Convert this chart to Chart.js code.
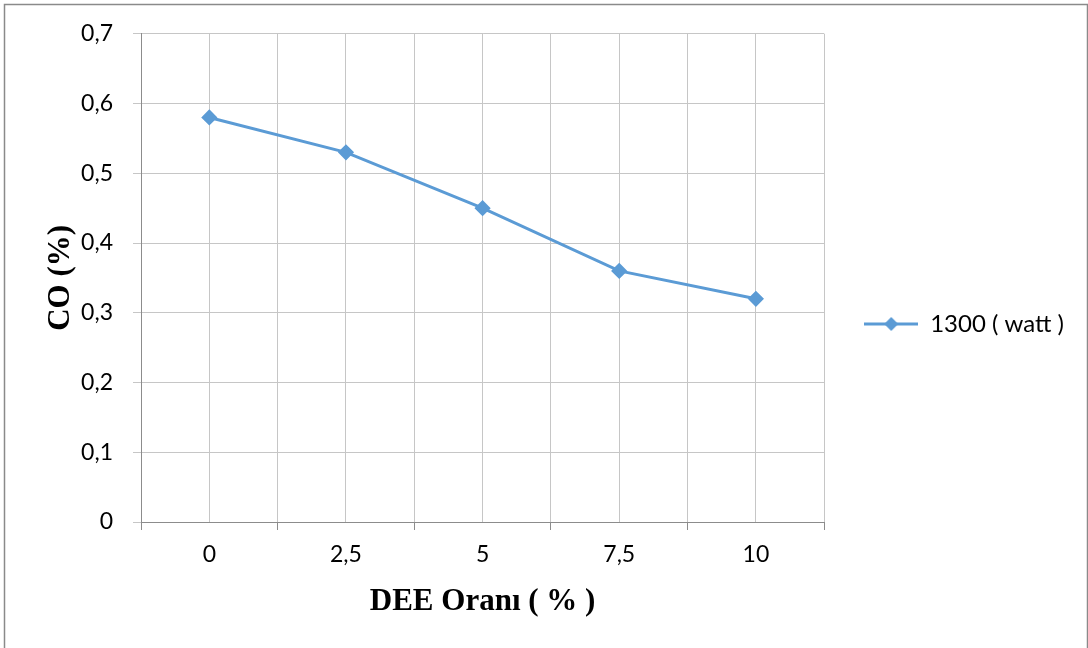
<!DOCTYPE html>
<html>
<head>
<meta charset="utf-8">
<script src="https://cdn.jsdelivr.net/npm/chart.js@4"></script>
<style>
  html, body { margin: 0; padding: 0; background: #ffffff; }
  #c { display: block; }
</style>
</head>
<body>
<canvas id="c" width="1088" height="648"></canvas>
<script>
// DEE ratio categories (%) and measured CO (%) at 1300 W
const categories = ['0', '2,5', '5', '7,5', '10'];
const coValues = [0.58, 0.53, 0.45, 0.36, 0.32];
const seriesName = '1300 ( watt )';
const yMin = 0;
const yMax = 0.7;
const yStep = 0.1;

const lineColor = '#5B9BD5';
const gridColor = '#C6C6C6';
const axisColor = '#8C8C8C';
const tickFont = { family: 'Lato, "Open Sans", sans-serif', size: 23 };
const legendFont = { family: 'Lato, "Open Sans", sans-serif', size: 24 };
const titleFont = { family: '"Liberation Serif", "Times New Roman", serif', size: 31, weight: 'bold' };

// Legend marker: a short line with a diamond in the middle
function legendMarker() {
  const w = 54, h = 14;
  const cv = document.createElement('canvas');
  cv.width = w; cv.height = h;
  const g = cv.getContext('2d');
  g.strokeStyle = lineColor;
  g.lineWidth = 3;
  g.beginPath(); g.moveTo(0, h / 2); g.lineTo(w, h / 2); g.stroke();
  g.fillStyle = lineColor;
  g.beginPath();
  g.moveTo(w / 2, 0); g.lineTo(w / 2 + 7, h / 2); g.lineTo(w / 2, h); g.lineTo(w / 2 - 7, h / 2);
  g.closePath(); g.fill();
  return cv;
}

// Thin grey frame around the whole chart
const framePlugin = {
  id: 'frame',
  beforeDraw(chart) {
    const ctx = chart.ctx;
    ctx.save();
    ctx.fillStyle = '#ffffff';
    ctx.fillRect(0, 0, chart.width, chart.height);
    ctx.strokeStyle = '#8A8A8A';
    ctx.lineWidth = 1.5;
    ctx.strokeRect(4.5, 4.5, 1083, 650);
    ctx.restore();
  }
};

new Chart(document.getElementById('c'), {
  type: 'line',
  data: {
    labels: categories,
    datasets: [{
      label: seriesName,
      data: coValues,
      borderColor: lineColor,
      backgroundColor: lineColor,
      borderWidth: 3,
      pointStyle: 'rectRot',
      pointRadius: 6,
      pointHoverRadius: 6,
      tension: 0,
      fill: false
    }]
  },
  options: {
    responsive: false,
    animation: false,
    layout: { padding: { left: 0, right: 14, top: 0, bottom: 0 } },
    plugins: {
      tooltip: { enabled: false },
      legend: {
        position: 'right',
        labels: {
          usePointStyle: true,
          pointStyleWidth: 54,
          padding: 40,
          color: '#000000',
          font: legendFont,
          generateLabels(chart) {
            const ds = chart.data.datasets[0];
            return [{
              text: ds.label,
              pointStyle: legendMarker(),
              fillStyle: lineColor,
              strokeStyle: lineColor,
              lineWidth: 0,
              fontColor: '#000000',
              datasetIndex: 0
            }];
          }
        }
      }
    },
    scales: {
      x: {
        type: 'category',
        offset: true,
        grid: { offset: true, color: gridColor, tickColor: axisColor, tickLength: 8, drawTicks: true },
        border: { color: axisColor, width: 1 },
        ticks: { color: '#000000', font: tickFont, padding: 11, maxRotation: 0 },
        title: { display: true, text: 'DEE Oranı ( % )', color: '#000000', font: titleFont, padding: { top: 0, bottom: 27 } },
        afterFit(scale) { scale.height = 126; }
      },
      xMid: {
        type: 'category',
        position: 'top',
        offset: true,
        grid: { offset: false, color: gridColor, drawTicks: false },
        border: { display: false },
        ticks: { display: false },
        afterFit(scale) { scale.height = 32; }
      },
      y: {
        min: yMin,
        max: yMax,
        grid: { color: gridColor, tickColor: gridColor, tickLength: 8 },
        border: { color: axisColor, width: 1 },
        ticks: {
          stepSize: yStep,
          color: '#000000',
          font: tickFont,
          padding: 20,
          callback(v) { return v === 0 ? '0' : v.toFixed(1).replace('.', ','); }
        },
        title: { display: true, text: 'CO (%)', color: '#000000', font: titleFont, padding: { top: 42, bottom: 0 } },
        afterFit(scale) { scale.width = 141; }
      }
    }
  },
  plugins: [framePlugin]
});
</script>
</body>
</html>
